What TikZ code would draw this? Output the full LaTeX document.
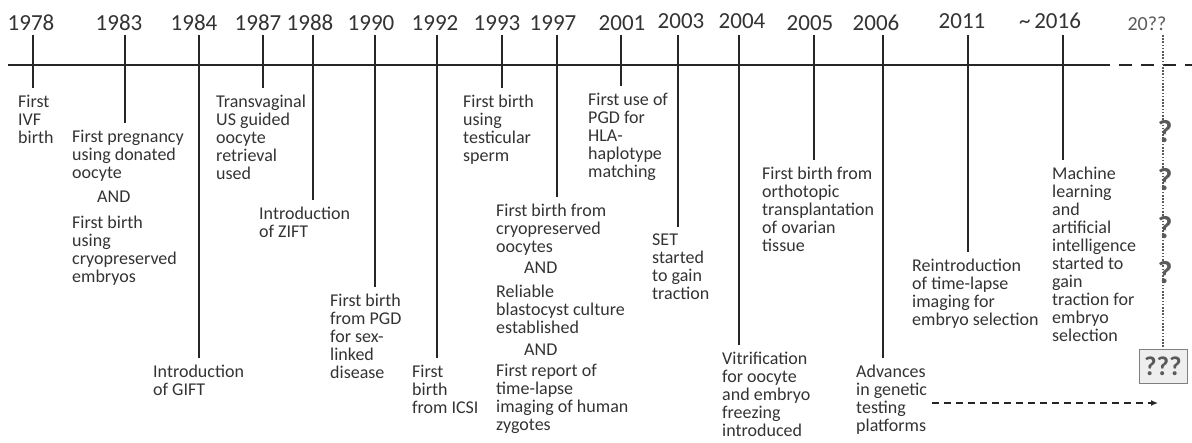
\documentclass[tikz,border=0pt]{standalone}
\usepackage{fontspec}
\setmainfont{Carlito}
\usetikzlibrary{arrows.meta}
\usetikzlibrary{positioning}
\definecolor{tl-ink}{HTML}{333333}
\definecolor{tl-line}{HTML}{262626}
\definecolor{tl-grey}{HTML}{5A5A5A}
\definecolor{tl-box}{HTML}{EEEEEE}

\begin{document}
\begin{tikzpicture}[x=1pt, y=-1pt,
    year/.style={anchor=base, inner sep=0pt, text=tl-ink, font=\fontsize{23}{27}\selectfont},
    event/.style={anchor=north west, inner xsep=0pt, inner ysep=7pt, align=left, text=tl-ink, font=\fontsize{18}{18}\selectfont},
    axis/.style={line width=2.6pt, color=tl-line},
    tick/.style={line width=2.4pt, color=tl-line},
    qmark/.style={inner sep=0pt, text=tl-grey, font=\bfseries\fontsize{32pt}{32pt}\selectfont}]
    % frame
    \useasboundingbox (0,0) rectangle (1192,442);

    % axis
    \coordinate (axisstart) at (8,65);
    \coordinate (axissolid) at (1097,65);
    \coordinate (axisend) at (1192,65);
    \draw[axis] (axisstart) -- (axissolid);
    \draw[axis, dash pattern=on 13pt off 9pt] (axissolid) -- (axisend);

    % ticks and years
    \foreach \yr/\x in {1978/33, 1983/125, 1984/199, 1987/263, 1988/313, 1990/375, 1992/437, 1993/502,
        1997/557, 2001/621, 2003/678, 2004/739, 2005/814, 2006/883, 2011/968, 2016/1063}
        \coordinate (t\yr) at (\x,35);
    \foreach \yr/\x/\y in {1978/31/30, 1983/119/30, 1984/194/30, 1987/258/30, 1988/310/30, 1990/371/30,
        1992/435/30, 1993/497/30, 1997/553/30, 2001/622/30, 2003/681/28, 2004/742/28, 2005/810/30,
        2006/876/30, 2011/962/28}
        \node[year] (y\yr) at (\x,\y) {\yr};
    \node[year] (y2016) at (1050,28) {\textasciitilde\,2016};
    \node[year, text=tl-grey, font=\fontsize{20}{24}\selectfont] (yfuture) at (1147,30) {20??};

    % events
    \node[event] (l1978) at (18,88) {First\\IVF\\birth};
    \node[event] (l1983) at (72,123) {First pregnancy\\using donated\\oocyte\\[6pt]\hspace*{25pt}AND\\[8pt]First birth\\using\\cryopreserved\\embryos};
    \node[event] (l1984) at (153,358) {Introduction\\of GIFT};
    \node[event] (l1987) at (216,88) {Transvaginal\\US guided\\oocyte\\retrieval\\used};
    \node[event] (l1988) at (259,200) {Introduction\\of ZIFT};
    \node[event] (l1990) at (330,287) {First birth\\from PGD\\for sex-\\linked\\disease};
    \node[event] (l1992) at (412,358) {First\\birth\\from ICSI};
    \node[event] (l1993) at (463,88) {First birth\\using\\testicular\\sperm};
    \node[event] (l1997) at (496,197) {First birth from\\cryopreserved\\oocytes\\[3pt]\hspace*{28pt}AND\\[6pt]Reliable\\blastocyst culture\\established\\[4pt]\hspace*{28pt}AND\\[3pt]First report of\\time-lapse\\imaging of human\\zygotes};
    \node[event] (l2001) at (588,86) {First use of\\PGD for\\HLA-\\haplotype\\matching};
    \node[event] (l2003) at (652,227) {SET\\started\\to gain\\traction};
    \node[event] (l2004) at (722,345) {Vitrification\\for oocyte\\and embryo\\freezing\\introduced};
    \node[event] (l2005) at (762,160) {First birth from\\orthotopic\\transplantation\\of ovarian\\tissue};
    \node[event] (l2006) at (856,358) {Advances\\in genetic\\testing\\platforms};
    \node[event] (l2011) at (912,252) {Reintroduction\\of time-lapse\\imaging for\\embryo selection};
    \node[event] (l2016) at (1052,160) {Machine\\learning\\and\\artificial\\intelligence\\started to\\gain\\traction for\\embryo\\selection};

    \foreach \yr in {1978,1983,1984,1987,1988,1990,1992,1993,1997,2001,2003,2004,2005,2006,2011,2016}
        \draw[tick] (t\yr) -- (t\yr |- l\yr.north);

    % future
    \coordinate (tfuture) at (1163,35);
    \node[draw=gray, fill=tl-box, line width=0.8pt, minimum width=48pt, minimum height=34pt,
        text=tl-grey, font=\bfseries\fontsize{27}{27}\selectfont] (qbox) at (1163,366) {???};
    \draw[line width=1.6pt, color=tl-grey, dash pattern=on 1.6pt off 1.6pt] (tfuture) -- (qbox.north);
    \foreach \i/\yq in {1/132, 2/180, 3/228, 4/273}
        \node[qmark] (q\i) at (1165,\yq) {?};

    % genetic testing arrow
    \coordinate (arrowtip) at (1158,403);
    \draw[-{Latex[length=7pt,width=6pt]}, line width=1.3pt, color=tl-line, dash pattern=on 7pt off 5pt]
        ([xshift=5pt]l2006.east |- arrowtip) -- (arrowtip);

\end{tikzpicture}
\end{document}
